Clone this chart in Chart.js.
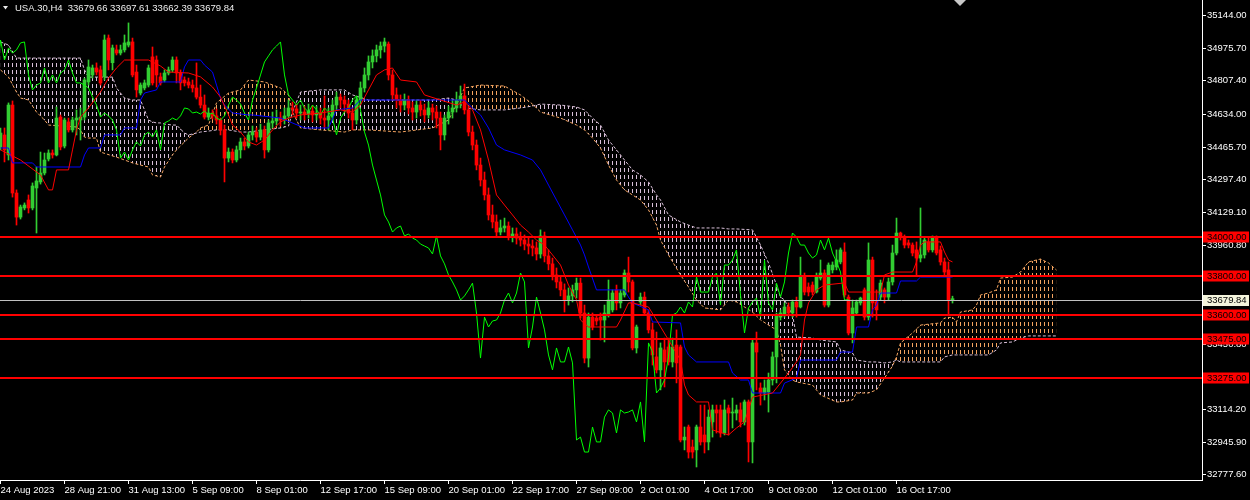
<!DOCTYPE html>
<html><head><meta charset="utf-8">
<script src="https://cdn.jsdelivr.net/npm/chart.js@4.4.0/dist/chart.umd.min.js"></script>
<style>html,body{margin:0;padding:0;background:#000;overflow:hidden}canvas{display:block}</style>
</head><body>
<canvas id="c" width="1250" height="500"></canvas>
<script>
const opens=[
34466,34528,34425,34682,34229,34105,34152,34193,34152,34255,
34286,34332,34404,34435,34425,34620,34471,34595,34554,34605,
34605,34620,34801,34837,34873,34863,34827,35027,34900,34966,
34950,34966,34991,35007,34852,34744,34770,34785,34930,34914,
34827,34811,34847,34863,34914,34847,34811,34801,34785,34770,
34723,34682,34620,34641,34626,34605,34554,34409,34440,34399,
34451,34492,34471,34528,34543,34517,34554,34451,34590,34600,
34615,34605,34626,34667,34662,34641,34646,34636,34651,34631,
34641,34615,34605,34626,34682,34723,34708,34687,34641,34605,
34708,34770,34837,34904,34935,34966,34986,34996,34837,34734,
34708,34682,34708,34667,34646,34682,34657,34631,34667,34646,
34615,34528,34615,34646,34667,34708,34729,34657,34543,34476,
34373,34296,34219,34116,34080,34028,34049,34059,34008,34018,
33997,33987,33966,33956,33946,33915,34008,33905,33864,33807,
33771,33730,33678,33699,33730,33765,33611,33379,33590,33585,
33590,33575,33601,33627,33730,33663,33704,33817,33771,33431,
33668,33693,33611,33524,33385,33318,33421,33436,33359,33446,
33436,32957,33024,32921,32906,33024,32983,32947,33050,33112,
33112,32993,33122,33096,33096,33112,33050,33153,32947,33457,
33225,33199,33204,33266,33385,33590,33601,33642,33611,33668,
33642,33796,33745,33755,33719,33791,33817,33652,33833,33848,
33874,33925,33693,33508,33611,33663,33730,33590,33884,33668,
33693,33730,33693,33771,33920,34023,34002,33972,33961,33936,
33894,33910,33977,33936,33997,33936,33874,33833,33679.66];
const highs=[
34564,34564,34693,34703,34245,34167,34178,34219,34281,34363,
34440,34435,34451,34451,34672,34631,34615,34615,34620,34657,
34667,34821,34914,34888,34899,34883,35043,35043,34991,34991,
34991,35043,35105,35027,34888,34796,34811,34888,34981,34935,
34847,34863,34878,34930,34930,34863,34827,34821,34811,34899,
34785,34734,34667,34657,34662,34615,34579,34461,34456,34471,
34512,34512,34543,34574,34564,34584,34574,34605,34646,34657,
34646,34667,34708,34698,34687,34682,34677,34687,34677,34677,
34667,34729,34667,34708,34749,34739,34729,34708,34667,34729,
34801,34873,34935,34966,34991,35007,35027,35007,34863,34770,
34734,34739,34729,34698,34708,34708,34687,34698,34687,34677,
34646,34631,34677,34708,34749,34780,34790,34677,34574,34502,
34409,34337,34255,34167,34116,34090,34100,34080,34049,34049,
34028,34013,33997,33987,33977,34039,34028,33936,33894,33843,
33802,33761,33740,33755,33791,33791,33652,33611,33611,33601,
33611,33652,33781,33730,33755,33730,33833,33899,33781,33549,
33714,33719,33627,33560,33513,33457,33482,33482,33482,33524,
33446,33024,33034,32957,33034,33137,33137,33112,33137,33137,
33137,33163,33137,33173,33137,33148,33163,33163,33472,33513,
33251,33266,33302,33410,33611,33627,33663,33663,33678,33693,
33899,33817,33766,33771,33817,33884,33833,33869,33874,33936,
33946,33972,33704,33678,33678,33693,33740,33972,33899,33730,
33781,33740,33791,33961,34100,34028,34013,33987,33972,33977,
34152,34002,34002,34008,34008,33956,33894,33874,33697.61];
const lows=[
34451,34389,34399,34208,34064,34095,34142,34126,34142,34023,
34275,34322,34394,34409,34420,34451,34461,34543,34543,34528,
34502,34605,34785,34821,34837,34785,34811,34863,34863,34940,
34940,34955,34981,34827,34723,34734,34760,34775,34785,34775,
34785,34801,34837,34852,34796,34760,34780,34770,34749,34713,
34667,34610,34605,34610,34584,34528,34286,34389,34384,34389,
34409,34451,34461,34502,34492,34502,34409,34440,34564,34579,
34574,34584,34615,34631,34615,34605,34605,34615,34595,34605,
34584,34564,34554,34605,34657,34667,34646,34615,34554,34584,
34687,34749,34811,34873,34904,34924,34955,34811,34708,34667,
34646,34657,34636,34605,34615,34626,34595,34615,34605,34564,
34451,34502,34584,34615,34646,34667,34636,34523,34451,34348,
34265,34193,34090,34049,34008,34013,34028,33987,33977,33966,
33956,33936,33915,33905,33884,33894,33874,33833,33781,33740,
33699,33616,33652,33668,33688,33585,33354,33333,33524,33549,
33472,33462,33590,33616,33627,33637,33693,33719,33421,33405,
33652,33601,33508,33343,33302,33215,33230,33343,33333,33251,
32947,32906,32864,32864,32818,32931,32890,32906,32972,32993,
32972,32983,32983,33019,33060,33024,33034,32844,32839,33215,
33137,33163,33101,33240,33251,33575,33590,33596,33590,33590,
33637,33704,33699,33704,33714,33781,33642,33642,33817,33833,
33864,33693,33498,33457,33601,33652,33575,33575,33590,33575,
33678,33663,33678,33755,33910,33987,33946,33946,33905,33807,
33874,33894,33925,33925,33910,33858,33807,33596,33662.39];
const closes=[
34538,34451,34682,34229,34105,34157,34167,34152,34265,34291,
34332,34399,34435,34425,34615,34466,34605,34554,34605,34615,
34620,34811,34878,34873,34852,34796,35017,34914,34976,34950,
34966,35002,35007,34837,34760,34785,34796,34873,34796,34837,
34796,34847,34863,34914,34847,34796,34796,34785,34770,34723,
34682,34620,34641,34626,34605,34554,34409,34440,34399,34451,
34492,34471,34528,34543,34517,34554,34451,34590,34600,34615,
34605,34626,34667,34662,34641,34646,34636,34651,34631,34641,
34615,34605,34626,34682,34723,34708,34687,34641,34605,34708,
34770,34837,34904,34935,34966,34986,35007,34837,34734,34708,
34682,34708,34667,34646,34682,34657,34631,34667,34646,34615,
34528,34615,34646,34667,34708,34729,34657,34543,34476,34373,
34296,34219,34116,34080,34028,34049,34059,34008,34018,33997,
33987,33966,33956,33946,33915,34008,33905,33864,33807,33771,
33730,33678,33699,33730,33765,33611,33379,33590,33539,33570,
33575,33611,33678,33714,33663,33714,33817,33771,33431,33539,
33693,33611,33524,33395,33318,33431,33359,33359,33436,33354,
32957,32972,32895,32895,33024,32947,32947,33075,33112,33096,
32993,33112,33096,33101,33112,33050,33153,32947,33457,33410,
33199,33225,33266,33385,33601,33611,33642,33611,33668,33642,
33796,33719,33719,33719,33796,33817,33652,33858,33858,33884,
33936,33704,33508,33637,33668,33688,33590,33884,33663,33627,
33765,33693,33771,33920,34023,34002,33961,33961,33920,33894,
33910,33987,33936,33997,33920,33874,33822,33678,33679.84];

const tenkanIdx=[0,5,10,12,13,14,17,18,19,20,22,25,26,27,29,31,37,40,42,47,50,53,55,57,58,60,62,64,66,68,70,72,75,80,85,88,90,92,94,96,98,100,104,106,110,114,116,118,120,122,124,126,128,130,132,134,136,138,140,142,144,145,147,154,155,157,158,162,164,167,170,171,172,174,177,178,182,184,186,187,188,193,195,197,199,200,201,202,204,206,211,212,220,221,223,228,229,230,231,235,236,237,238];
const tenkanVal=[34451,34399,34322,34245,34245,34348,34348,34451,34554,34620,34667,34749,34785,34821,34873,34914,34914,34883,34852,34847,34827,34775,34723,34631,34579,34543,34492,34476,34502,34554,34595,34615,34631,34641,34657,34646,34682,34760,34837,34863,34873,34811,34801,34734,34708,34682,34698,34657,34554,34399,34219,34167,34116,34064,34028,33987,33961,33910,33858,33755,33678,33575,33539,33539,33575,33663,33663,33642,33575,33472,33369,33240,33189,33153,33153,33009,32983,33019,33050,33112,33178,33199,33250,33302,33359,33395,33575,33663,33730,33755,33766,33719,33719,33807,33822,33822,33874,33961,33977,33977,33925,33884,33874];

const kijunIdx=[0,2,3,8,9,20,21,22,25,26,30,31,34,35,36,39,40,45,46,47,50,51,53,54,55,56,58,62,63,70,76,82,84,88,90,116,118,120,122,124,126,130,133,135,137,139,141,143,145,146,147,149,156,157,158,162,163,170,171,172,174,182,183,185,187,188,195,196,199,200,209,210,213,214,217,218,219,220,224,225,229,230,238];
const kijunVal=[34461,34461,34384,34384,34363,34363,34425,34461,34461,34528,34528,34564,34564,34708,34744,34760,34801,34801,34878,34914,34914,34888,34852,34785,34718,34682,34641,34631,34631,34615,34564,34564,34657,34667,34708,34708,34667,34631,34564,34476,34451,34425,34399,34348,34270,34193,34116,34039,33961,33910,33848,33730,33730,33693,33663,33627,33565,33560,33436,33395,33359,33359,33302,33266,33266,33199,33199,33250,33276,33369,33369,33410,33410,33539,33539,33627,33652,33714,33714,33776,33776,33796,33796];

const cloudIdx=[0,2,4,5,7,9,11,12,19,20,21,22,24,25,28,29,31,33,35,36,37,38,39,40,41,43,44,46,47,49,50,52,54,57,60,62,66,70,72,73,75,80,86,88,92,100,108,112,114,116,120,126,130,133,135,140,144,146,148,150,152,154,156,158,160,162,164,165,167,170,172,174,176,180,182,184,188,190,192,194,195,196,198,199,203,205,209,210,213,214,217,219,221,223,224,225,228,230,235,236,238,239,240,243,244,245,247,249,250,253,255,257,260,262,264];
const spanA=[34863,34826,34749,34718,34708,34646,34605,34579,34569,34554,34517,34512,34512,34440,34420,34414,34399,34384,34373,34368,34363,34322,34317,34311,34363,34425,34451,34492,34512,34543,34564,34579,34693,34744,34760,34811,34801,34770,34734,34646,34564,34554,34543,34554,34554,34543,34564,34605,34682,34770,34785,34780,34734,34687,34646,34615,34579,34554,34512,34461,34373,34296,34245,34219,34193,34142,34064,33987,33910,33807,33745,33678,33637,33627,33678,33668,33616,33575,33549,33524,33446,33318,33266,33256,33240,33189,33153,33153,33163,33199,33199,33215,33276,33338,33385,33457,33508,33549,33560,33585,33590,33565,33616,33627,33652,33704,33714,33730,33791,33796,33822,33874,33889,33869,33832];
const spanB=[35007,34991,34924,34924,34924,34924,34924,34924,34924,34924,34863,34826,34826,34826,34826,34770,34718,34708,34708,34657,34605,34595,34590,34590,34584,34579,34579,34538,34528,34538,34543,34548,34554,34554,34543,34543,34554,34564,34574,34646,34749,34760,34760,34734,34708,34708,34708,34718,34708,34667,34657,34657,34667,34677,34687,34682,34672,34657,34615,34579,34502,34451,34399,34348,34322,34286,34219,34193,34116,34080,34064,34049,34049,34049,34044,34044,34039,33961,33869,33755,33693,33678,33601,33487,33482,33472,33462,33421,33405,33369,33359,33359,33354,33359,33369,33359,33359,33359,33359,33385,33395,33395,33395,33395,33395,33395,33395,33421,33457,33462,33482,33493,33493,33493,33493];

const xTickIdx=[0,16,32,48,64,80,96,112,128,144,160,176,192,208,224];
const xTickLabels=['24 Aug 2023','28 Aug 21:00','31 Aug 13:00','5 Sep 09:00','8 Sep 01:00','12 Sep 17:00','15 Sep 09:00','20 Sep 01:00','22 Sep 17:00','27 Sep 09:00','2 Oct 01:00','4 Oct 17:00','9 Oct 09:00','12 Oct 01:00','16 Oct 17:00'];
const yTicks=[35144.00,34975.70,34807.40,34634.00,34465.70,34297.40,34129.10,33960.80,33792.50,33450.80,33282.50,33114.20,32945.90,32777.60];
const levels=[34000,33800,33600,33475,33275];
const bidPrice=33679.84;
const titleText='USA.30,H4  33679.66 33697.61 33662.39 33679.84';

const BULL='#32cd32', BEAR='#ff0000';
const FONT='"Liberation Sans", Arial, sans-serif';
const FS=9.5;
const canvas=document.getElementById('c');
const c2d=canvas.getContext('2d');
function makePattern(color){
  const t=document.createElement('canvas'); t.width=4; t.height=7;
  const g=t.getContext('2d'); g.fillStyle=color; g.fillRect(0,0,1,4);
  return c2d.createPattern(t,'repeat');
}
const patOrange=makePattern('#f4a460');
const patThistle=makePattern('#d8bfd8');
const candleColor=ctx=>closes[ctx.dataIndex]>=opens[ctx.dataIndex]?BULL:BEAR;

const mt4=({
  id:'mt4',
  beforeDraw(chart){const g=chart.ctx;g.save();g.fillStyle='#000';g.fillRect(0,0,chart.width,chart.height);g.restore();},
  afterDatasetsDraw(chart){
    const g=chart.ctx, a=chart.chartArea, ys=chart.scales.y;
    g.save();
    g.beginPath(); g.rect(a.left,a.top,a.right-a.left,a.bottom-a.top); g.clip();
    g.strokeStyle='#ff0000'; g.lineWidth=2;
    levels.forEach(v=>{const y=Math.round(ys.getPixelForValue(v)); g.beginPath(); g.moveTo(a.left,y); g.lineTo(a.right,y); g.stroke();});
    g.strokeStyle='#c0c0c0'; g.lineWidth=1;
    const by=Math.round(ys.getPixelForValue(bidPrice))+0.5;
    g.beginPath(); g.moveTo(a.left,by); g.lineTo(a.right,by); g.stroke();
    g.restore();
  },
  afterDraw(chart){
    const g=chart.ctx, a=chart.chartArea, ys=chart.scales.y;
    g.save();
    g.font=FS+'px '+FONT; g.textBaseline='middle'; g.textAlign='left';
    levels.forEach(v=>{const y=Math.round(ys.getPixelForValue(v));
      g.fillStyle='#ff0000'; g.fillRect(a.right+1,y-5.5,46,11);
      g.fillStyle='#000'; g.fillText(v.toFixed(2),a.right+5,y+0.5);});
    const by=Math.round(ys.getPixelForValue(bidPrice));
    g.fillStyle='#f4f4dc'; g.fillRect(a.right+1,by-5,46,11);
    g.fillStyle='#000'; g.fillText(bidPrice.toFixed(2),a.right+5,by+0.5);
    g.fillStyle='#e8e8e8';
    g.beginPath(); g.moveTo(3,6); g.lineTo(8,6); g.lineTo(5.5,9.5); g.closePath(); g.fill();
    g.textBaseline='alphabetic'; g.fillStyle='#f0f0f0';
    g.fillText(titleText,15,11);
    g.fillStyle='#c8c8c8';
    g.beginPath(); g.moveTo(954,0); g.lineTo(966,0); g.lineTo(960,6); g.closePath(); g.fill();
    g.restore();
  }
});

new Chart(canvas,{
  type:'line',
  data:{datasets:[
    {type:'line',label:'Senkou A',data:cloudIdx.map((x,k)=>({x,y:spanA[k]})),borderColor:'#f4a460',borderWidth:1,borderDash:[3,2],pointRadius:0,fill:{target:1,above:patOrange,below:patThistle},order:10},
    {type:'line',label:'Senkou B',data:cloudIdx.map((x,k)=>({x,y:spanB[k]})),borderColor:'#d8bfd8',borderWidth:1,borderDash:[3,2],pointRadius:0,fill:false,order:9},
    {type:'bar',label:'wick',data:highs.map((h,i)=>({x:i,y:[lows[i],h]})),backgroundColor:candleColor,borderWidth:0,barThickness:1,grouped:false,order:6},
    {type:'bar',label:'body',data:opens.map((o,i)=>({x:i,y:[o,closes[i]]})),backgroundColor:candleColor,borderWidth:0,barThickness:3,minBarLength:1,grouped:false,order:5},
    {type:'line',label:'Chikou',data:closes.map((v,i)=>({x:i-26,y:v})),borderColor:'#00ff00',borderWidth:1,pointRadius:0,fill:false,order:3},
    {type:'line',label:'Kijun',data:kijunIdx.map((x,k)=>({x,y:kijunVal[k]})),borderColor:'#0000ff',borderWidth:1,pointRadius:0,fill:false,order:2},
    {type:'line',label:'Tenkan',data:tenkanIdx.map((x,k)=>({x,y:tenkanVal[k]})),borderColor:'#ff0000',borderWidth:1,pointRadius:0,fill:false,order:1}
  ]},
  options:{
    responsive:false,devicePixelRatio:1,animation:false,events:[],
    layout:{padding:0},
    elements:{line:{tension:0},point:{radius:0}},
    plugins:{legend:{display:false},tooltip:{enabled:false},title:{display:false}},
    scales:{
      x:{type:'linear',position:'bottom',min:-0.125,max:300.375,offset:false,
        afterFit(s){s.height=20;s.paddingLeft=0;s.paddingRight=0;},
        afterBuildTicks(s){s.ticks=xTickIdx.map(v=>({value:v}));},
        grid:{display:true,drawOnChartArea:false,drawTicks:true,tickLength:4,color:'#ffffff',offset:false},
        border:{display:true,color:'#ffffff',width:1},
        ticks:{autoSkip:false,maxRotation:0,minRotation:0,align:'start',padding:1,color:'#ffffff',font:{family:FONT,size:FS},callback:(v,i)=>xTickLabels[i]}
      },
      y:{type:'linear',position:'right',min:32751,max:35223,
        afterFit(s){s.width=48;s.paddingTop=0;s.paddingBottom=0;},
        afterBuildTicks(s){s.ticks=yTicks.map(v=>({value:v}));},
        grid:{display:true,drawOnChartArea:false,drawTicks:true,tickLength:4,color:'#ffffff'},
        border:{display:true,color:'#ffffff',width:1},
        ticks:{autoSkip:false,padding:1,color:'#ffffff',font:{family:FONT,size:FS},callback:v=>Number(v).toFixed(2)}
      }
    }
  },
  plugins:[mt4]
});
</script>
</body></html>
